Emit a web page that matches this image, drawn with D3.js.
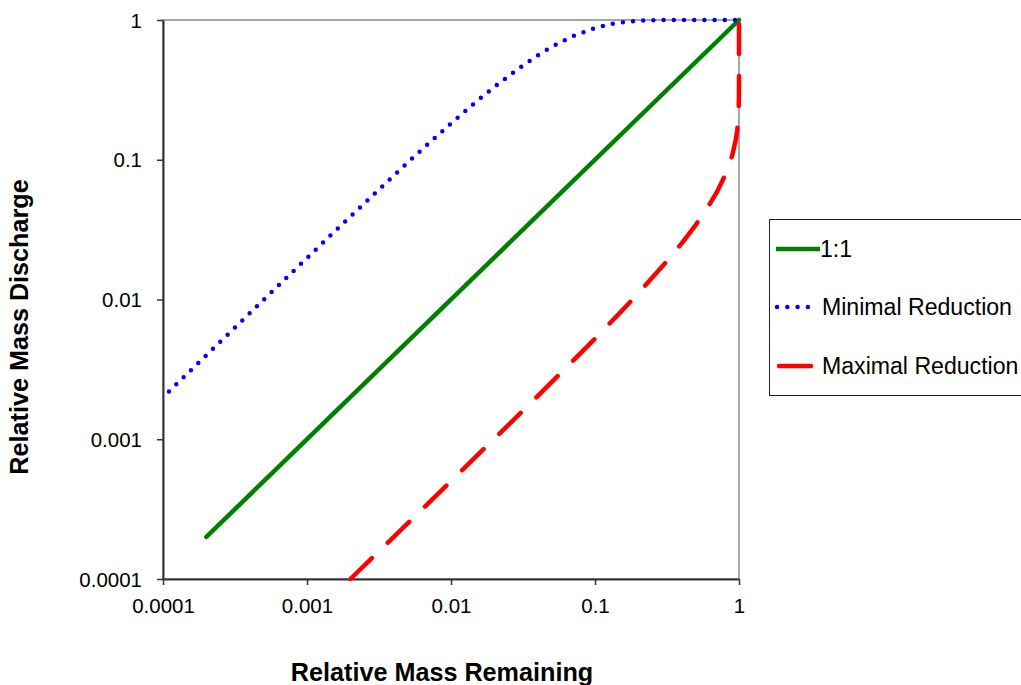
<!DOCTYPE html>
<html>
<head>
<meta charset="utf-8">
<script src="https://cdn.jsdelivr.net/npm/d3@7"></script>
<style>
  html, body { margin: 0; padding: 0; background: #fff; }
  svg { display: block; font-family: "Liberation Sans", Arial, sans-serif; }
</style>
</head>
<body>
<svg id="chart" width="1021" height="685"></svg>
<script>
// ---- Data ----
const tickValues = [0.0001, 0.001, 0.01, 0.1, 1];
const tickLabels = ["0.0001", "0.001", "0.01", "0.1", "1"];

const oneToOneX = [0.0002, 1];
const oneToOneY = [0.0002, 1];

const minimalX = [0.00011, 0.0002, 0.0003, 0.0005, 0.0007, 0.001, 0.0015, 0.002, 0.003, 0.005, 0.007,
                  0.01, 0.015, 0.02, 0.03, 0.04, 0.05, 0.07, 0.1, 0.13, 0.16, 0.2, 0.25, 0.3, 0.4, 0.5, 0.7, 1];
const minimalY = [0.0022, 0.00399, 0.00598, 0.00996, 0.0139, 0.0198, 0.0296, 0.0392, 0.0583, 0.0954, 0.131,
                  0.182, 0.261, 0.332, 0.456, 0.558, 0.642, 0.766, 0.878, 0.938, 0.969, 0.988, 0.997, 0.9992, 1, 1, 1, 1];

const maximalX = [0.002, 0.003, 0.005, 0.01, 0.02, 0.03, 0.05, 0.1, 0.15, 0.2, 0.3, 0.4, 0.5, 0.6, 0.7,
                  0.8, 0.85, 0.9, 0.95, 0.97, 0.98, 0.99, 0.995, 0.999, 0.9999, 1];
const maximalY = [0.0001, 0.00015, 0.00025, 0.000502, 0.00101, 0.00152, 0.00256, 0.00525, 0.00809, 0.0111,
                  0.0177, 0.0252, 0.0341, 0.0448, 0.0584, 0.0773, 0.0905, 0.1088, 0.139, 0.161, 0.178,
                  0.206, 0.233, 0.292, 0.369, 1];

const seriesNames = ["1:1", "Minimal Reduction", "Maximal Reduction"];
const seriesColors = ["#008000", "#0000FF", "#FF0000"];

const xTitle = "Relative Mass Remaining";
const yTitle = "Relative Mass Discharge";

// ---- Layout ----
const svg = d3.select("#chart");
const plot = { left: 163, top: 20, right: 739, bottom: 579 };

const x = d3.scaleLog().domain([0.0001, 1]).range([plot.left, plot.right]);
const y = d3.scaleLog().domain([0.0001, 1]).range([plot.bottom, plot.top]);

svg.append("rect").attr("width", 1021).attr("height", 685).attr("fill", "#fff");

// Plot area border (grey)
svg.append("rect")
  .attr("x", plot.left).attr("y", plot.top)
  .attr("width", plot.right - plot.left).attr("height", plot.bottom - plot.top)
  .attr("fill", "none").attr("stroke", "#8c8c8c").attr("stroke-width", 1.5);

// Axes
const fmt = d => tickLabels[tickValues.indexOf(d)];
const xAxis = svg.append("g").attr("transform", `translate(0,${plot.bottom})`)
  .call(d3.axisBottom(x).tickValues(tickValues).tickFormat(fmt).tickSize(6).tickSizeOuter(0));
const yAxis = svg.append("g").attr("transform", `translate(${plot.left},0)`)
  .call(d3.axisLeft(y).tickValues(tickValues).tickFormat(fmt).tickSize(6).tickSizeOuter(0));

[xAxis, yAxis].forEach(g => {
  g.select(".domain").attr("stroke", "#333").attr("stroke-width", 2);
  g.selectAll(".tick line").attr("stroke", "#333").attr("stroke-width", 1.5);
  g.selectAll(".tick text").attr("fill", "#000").attr("font-size", "20.5px")
    .attr("font-family", "'Liberation Sans', Arial, sans-serif");
});
xAxis.selectAll(".tick text").attr("y", 34).attr("dy", null);
yAxis.selectAll(".tick text").attr("x", -21).attr("dy", "7px");

// Lines
const line = d3.line().x(d => x(d[0])).y(d => y(d[1]));

svg.append("path")
  .datum(oneToOneX.map((v, i) => [v, oneToOneY[i]]))
  .attr("d", line).attr("fill", "none")
  .attr("stroke", seriesColors[0]).attr("stroke-width", 4.5).attr("stroke-linecap", "round");

svg.append("path")
  .datum(minimalX.map((v, i) => [v, minimalY[i]]))
  .attr("d", line).attr("fill", "none")
  .attr("stroke", seriesColors[1]).attr("stroke-width", 4.5)
  .attr("stroke-linecap", "round").attr("stroke-linejoin", "round")
  .attr("stroke-dasharray", "0,10.2");

svg.append("path")
  .datum(maximalX.map((v, i) => [v, maximalY[i]]))
  .attr("d", line).attr("fill", "none")
  .attr("stroke", seriesColors[2]).attr("stroke-width", 4.5)
  .attr("stroke-linecap", "round").attr("stroke-linejoin", "round")
  .attr("stroke-dasharray", "30,22");

// Axis titles
svg.append("text")
  .attr("x", 442).attr("y", 681)
  .attr("text-anchor", "middle").attr("font-weight", "bold").attr("font-size", "25.2px")
  .text(xTitle);

svg.append("text")
  .attr("transform", "translate(28,327) rotate(-90)")
  .attr("text-anchor", "middle").attr("font-weight", "bold").attr("font-size", "25.2px")
  .text(yTitle);

// Legend
const lg = svg.append("g");
lg.append("rect").attr("x", 769.5).attr("y", 219.5).attr("width", 270).attr("height", 176)
  .attr("fill", "#fff").attr("stroke", "#222").attr("stroke-width", 1);

const legendY = [249, 307, 366];
// 1:1
lg.append("line").attr("x1", 776).attr("x2", 820).attr("y1", legendY[0]).attr("y2", legendY[0])
  .attr("stroke", seriesColors[0]).attr("stroke-width", 4.5);
// minimal
lg.append("line").attr("x1", 777).attr("x2", 808).attr("y1", legendY[1]).attr("y2", legendY[1])
  .attr("stroke", seriesColors[1]).attr("stroke-width", 4.5)
  .attr("stroke-linecap", "round").attr("stroke-dasharray", "0,10.3");
// maximal
lg.append("line").attr("x1", 779).attr("x2", 811).attr("y1", legendY[2]).attr("y2", legendY[2])
  .attr("stroke", seriesColors[2]).attr("stroke-width", 4.5).attr("stroke-linecap", "round");

seriesNames.forEach((name, i) => {
  lg.append("text").attr("x", i === 0 ? 820 : 822).attr("y", legendY[i] + 8)
    .attr("font-size", "23.1px").attr("fill", "#000").text(name);
});
</script>
</body>
</html>
